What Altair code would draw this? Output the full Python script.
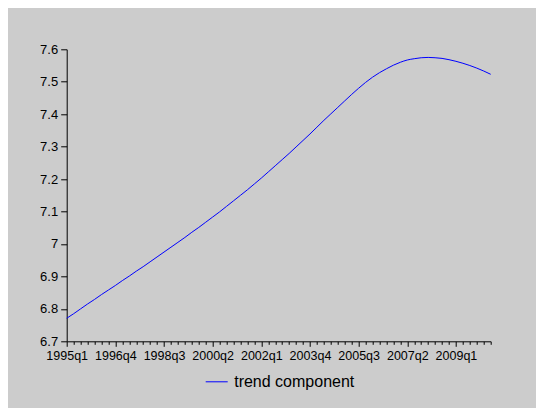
import json
import altair as alt
import pandas as pd

# quarterly periods 1995q1 .. 2010q2
periods = [f"{1995 + i // 4}q{i % 4 + 1}" for i in range(62)]

trend = [
    6.771, 6.785, 6.800, 6.815, 6.829, 6.844, 6.858, 6.872, 6.887, 6.901,
    6.916, 6.930, 6.945, 6.960, 6.975, 6.990, 7.005, 7.020, 7.036, 7.051,
    7.067, 7.083, 7.099, 7.116, 7.133, 7.150, 7.167, 7.185, 7.203, 7.222,
    7.241, 7.260, 7.279, 7.299, 7.319, 7.339, 7.360, 7.381, 7.401, 7.421,
    7.441, 7.461, 7.480, 7.498, 7.514, 7.528, 7.540, 7.551, 7.560, 7.567,
    7.571, 7.574, 7.575, 7.574, 7.572, 7.568, 7.563, 7.557, 7.550, 7.542,
    7.533, 7.523,
]

y_ticks = [6.7, 6.8, 6.9, 7.0, 7.1, 7.2, 7.3, 7.4, 7.5, 7.6]
series_name = "trend component"

df = pd.DataFrame({
    "idx": list(range(len(periods))),
    "period": periods,
    "value": trend,
    "series": series_name,
})

FONT = "Liberation Sans"

label_expr = "datum.value % 7 == 0 ? " + json.dumps(periods) + "[datum.value] : ''"

chart = alt.Chart(df).mark_line(strokeWidth=1, interpolate="monotone").encode(
    x=alt.X(
        "idx:Q",
        scale=alt.Scale(domain=[0, len(periods) - 1], nice=False, zero=False),
        axis=alt.Axis(
            title=None,
            values=list(range(len(periods))),
            labelExpr=label_expr,
            labelOverlap=False,
            labelFlush=False,
            grid=False,
            domainColor="black",
            tickColor="black",
            tickSize={"condition": {"test": "datum.value % 7 == 0", "value": 5}, "value": 3},
            labelPadding=3,
            labelFont=FONT,
            labelFontSize=12.5,
            labelColor="black",
        ),
    ),
    y=alt.Y(
        "value:Q",
        scale=alt.Scale(domain=[6.7, 7.6], nice=False, zero=False),
        axis=alt.Axis(
            title=None,
            values=y_ticks,
            format=".2~f",
            grid=False,
            domainColor="black",
            tickColor="black",
            tickSize=6,
            labelPadding=3,
            labelFont=FONT,
            labelFontSize=13,
            labelColor="black",
        ),
    ),
    color=alt.Color(
        "series:N",
        scale=alt.Scale(domain=[series_name], range=["#0000ff"]),
        legend=alt.Legend(
            title=None,
            orient="none",
            legendX=138.5,
            legendY=321,
            symbolType="stroke",
            symbolSize=484,
            symbolStrokeWidth=1,
            labelFont=FONT,
            labelFontSize=16,
            labelColor="black",
            labelOffset=6,
            padding=0,
        ),
    ),
).properties(
    width=424,
    height=292,
    padding={"left": 58.7, "top": 41.3, "right": 45.3, "bottom": 66.7},
    autosize=alt.AutoSizeParams(type="none"),
    background="#cccccc",
).configure_view(strokeWidth=0)

chart.save("out.html", embed_options={"renderer": "svg", "actions": False})
